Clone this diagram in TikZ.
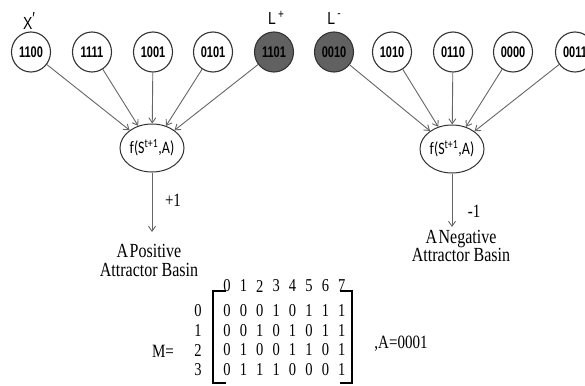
\documentclass[tikz,border=0pt]{standalone}
\usepackage{graphicx}
\usepackage{fontspec}
\setmainfont{Liberation Serif}
\newfontfamily\arialf{Liberation Sans}
\newfontfamily\calf{Carlito}
\usetikzlibrary{shapes.geometric,arrows.meta}
\newcommand{\ys}[1]{\scalebox{1}[1.25]{#1}}
\newcommand{\ysb}[1]{\scalebox{1}[1.4]{#1}}
\newcommand{\twoline}[2]{\ys{\renewcommand\arraystretch{0.9}\begin{tabular}{@{}c@{}}#1\\#2\end{tabular}}}
\begin{document}
\begin{tikzpicture}[x=1pt,y=-1pt,
  st/.style={ellipse,draw=black!80,line width=1.1pt,fill=white,minimum width=39pt,minimum height=40pt,inner sep=0pt,font=\arialf\bfseries\fontsize{11}{11}\selectfont},
  dk/.style={st,fill=black!62},
  fn/.style={ellipse,draw=black!80,line width=1pt,fill=white,minimum width=64pt,minimum height=48pt,inner sep=0pt,font=\calf\fontsize{14}{14}\selectfont},
  ar/.style={draw=black!60,line width=0.9pt,-{Straight Barb[length=5pt,width=7pt]}},
  lbl/.style={font=\fontsize{15}{15}\selectfont,inner sep=0pt},
  blbl/.style={font=\fontsize{16}{16}\selectfont,inner sep=0pt},
  sl/.style={font=\arialf\fontsize{14}{14}\selectfont,inner sep=0pt},
  dg/.style={font=\fontsize{14.5}{14.5}\selectfont,inner sep=0pt},
  brk/.style={draw=black,line width=1.3pt}]
\useasboundingbox (0,0) rectangle (585,385);
\clip (0,0) rectangle (585,385);
\fill[white] (0,0) rectangle (585,385);
% top state nodes
\node[st] (c1) at (31,52) {\ysb{1100}};
\node[st] (c2) at (92,52) {\ysb{1111}};
\node[st] (c3) at (153,52) {\ysb{1001}};
\node[st] (c4) at (213,52) {\ysb{0101}};
\node[dk] (c5) at (274,52) {\ysb{1101}};
\node[dk] (d1) at (334,52) {\ysb{0010}};
\node[st] (d2) at (392,52) {\ysb{1010}};
\node[st] (d3) at (453,52) {\ysb{0110}};
\node[st] (d4) at (513,52) {\ysb{0000}};
\node[st] (d5) at (575,52) {\ysb{0011}};
% labels
\node[sl] (lx) at (29,21) {\ys{X\raisebox{0.5ex}{\char"2032}}};
\node[sl] (lp) at (276,18) {\ys{L\,\raisebox{0.6ex}{\fontsize{10}{10}\selectfont +}}};
\node[sl] (lm) at (334,18) {\ys{L\,\raisebox{0.7ex}{\fontsize{10}{10}\selectfont -}}};
% function nodes
\node[fn] (f1) at (152,148) {\ys{f(S\textsuperscript{t+1},A)}};
\node[fn] (f2) at (452,149) {\ys{f(S\textsuperscript{t+1},A)}};
\foreach \n in {c1,c2,c3,c4,c5} \draw[ar] (\n) -- (f1);
\foreach \n in {d1,d2,d3,d4,d5} \draw[ar] (\n) -- (f2);
% outputs
\coordinate (t1) at (f1.south |- 0,232);
\coordinate (t2) at (f2.south |- 0,227);
\draw[ar] (f1.south) -- (t1);
\draw[ar] (f2.south) -- (t2);
\node[lbl] (p1) at (173,200) {\ys{+1}};
\node[lbl] (m1) at (474,211) {\ys{-1}};
\node[blbl] (pos) at (149,263) {\twoline{A\kern1.5pt Positive}{Attractor Basin}};
\node[blbl] (neg) at (461,248.5) {\twoline{A\kern1.5pt Negative}{Attractor Basin}};
% matrix
\node[lbl] (meq) at (163,351) {\ys{M=}};
\node[lbl] (aeq) at (401,344) {\ys{,A=0001}};
\foreach \c in {0,...,7} \node[dg] (h\c) at (227+16.4*\c,286) {\ys{\c}};
\foreach \r in {0,...,3} \node[dg] (r\r) at (198,311+19.5*\r) {\ys{\r}};
\foreach \row [count=\r from 0] in {{0,0,0,1,0,1,1,1},{0,0,1,0,1,0,1,1},{0,1,0,0,1,1,0,1},{0,1,1,1,0,0,0,1}}
  \foreach \v [count=\c from 0] in \row
    \node[dg] (m\r\c) at (227+16.4*\c,311+19.5*\r) {\ys{\v}};
\draw[brk] (226,291) -- (213,291) -- (213,383) -- (226,383);
\draw[brk] (340,291) -- (352,291) -- (352,383) -- (340,383);
\end{tikzpicture}
\end{document}
